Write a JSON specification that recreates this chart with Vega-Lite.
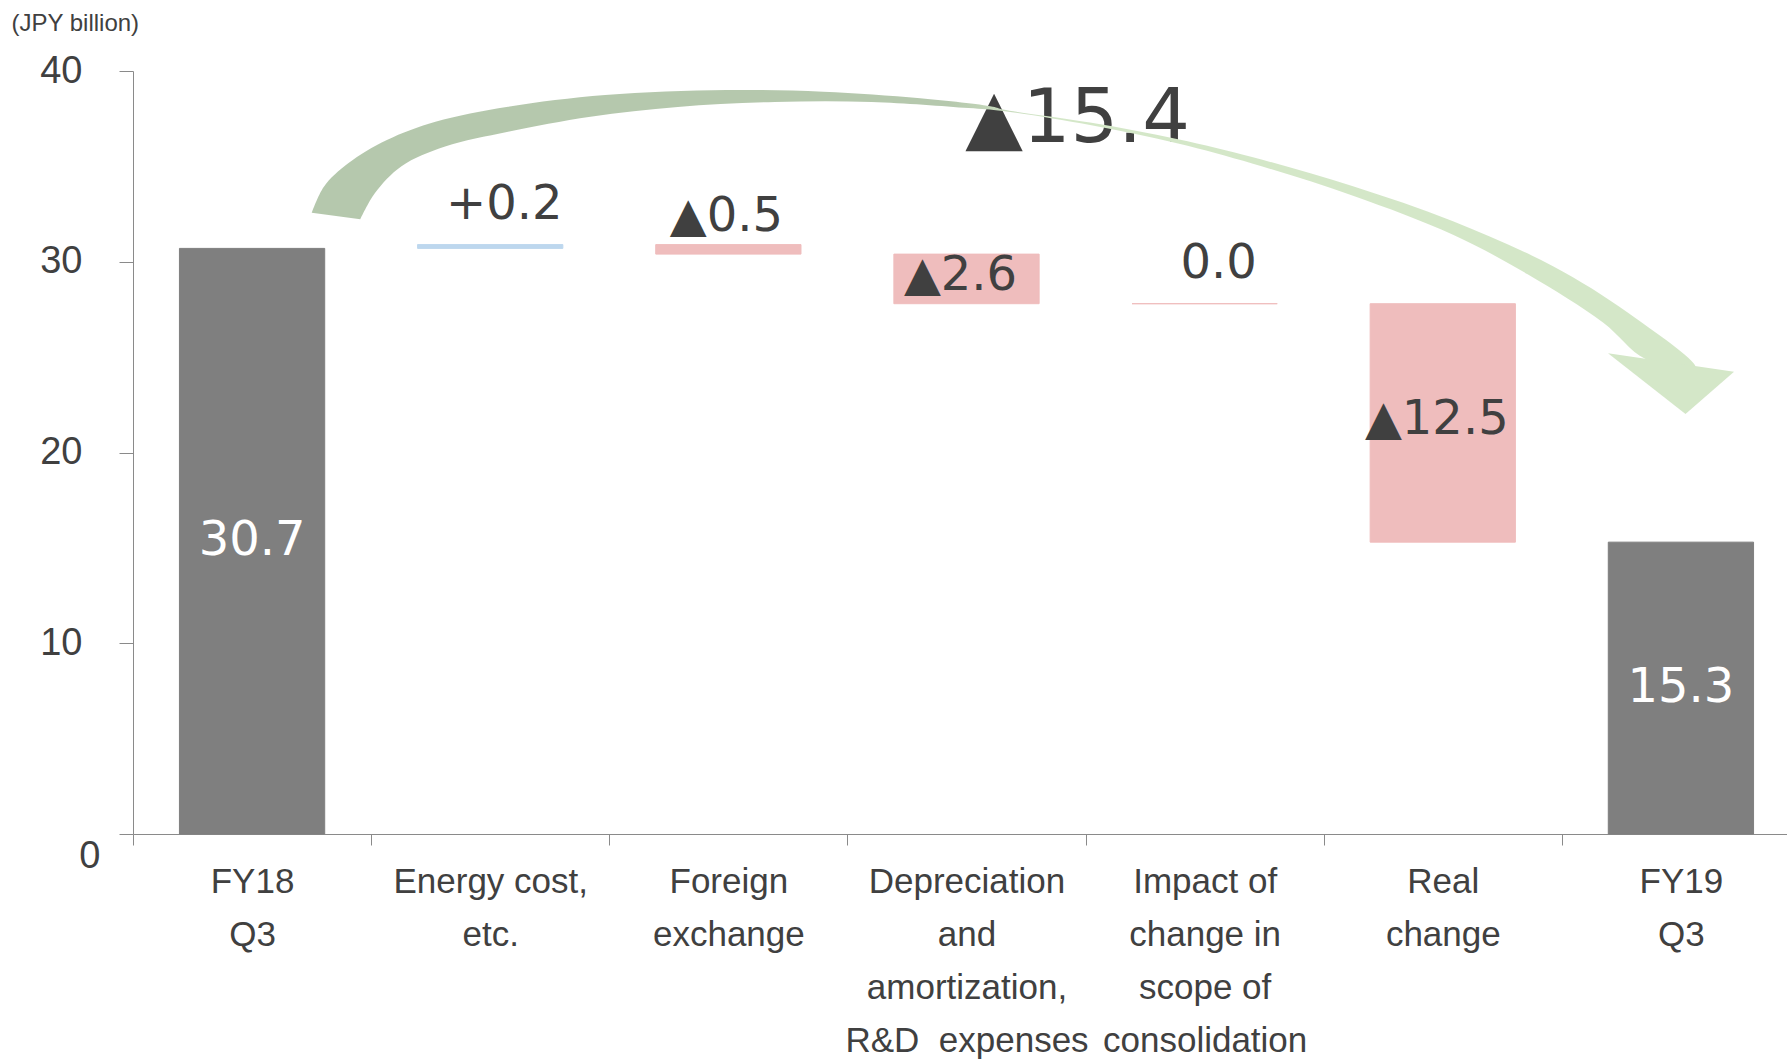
{
  "$schema": "https://vega.github.io/schema/vega-lite/v6.json",
  "width": 1654,
  "height": 763,
  "autosize": {"type": "none"},
  "padding": {"left": 133, "top": 71, "right": 0, "bottom": 225},
  "background": "white",
  "config": {"view": {"stroke": null}},
  "datasets": {
    "steps": [
      {"cat": "FY18|Q3", "lo": 0, "hi": 30.7, "kind": "total", "lab": "30.7"},
      {"cat": "Energy cost,|etc.", "lo": 30.7, "hi": 30.9, "kind": "up", "lab": "+0.2"},
      {"cat": "Foreign|exchange", "lo": 30.4, "hi": 30.9, "kind": "down", "lab": "▲0.5"},
      {"cat": "Depreciation|and|amortization,|R&D\u00a0 expenses", "lo": 27.8, "hi": 30.4, "kind": "down", "lab": "▲2.6"},
      {"cat": "Impact of|change in|scope of|consolidation", "lo": 27.8, "hi": 27.8, "kind": "down", "lab": "0.0"},
      {"cat": "Real|change", "lo": 15.3, "hi": 27.8, "kind": "down", "lab": "▲12.5"},
      {"cat": "FY19|Q3", "lo": 0, "hi": 15.3, "kind": "total", "lab": "15.3"}
    ],
    "total": [
      {"cat": "Depreciation|and|amortization,|R&D\u00a0 expenses", "lab": "▲15.4", "v": 37.57}
    ],
    "arrow": [
      {"i": 1, "u": 0.7508, "v": 32.571},
      {"i": 2, "u": 0.8016, "v": 33.935},
      {"i": 3, "u": 0.9037, "v": 35.161},
      {"i": 4, "u": 1.0662, "v": 36.383},
      {"i": 5, "u": 1.2699, "v": 37.342},
      {"i": 6, "u": 1.5751, "v": 38.129},
      {"i": 7, "u": 1.9825, "v": 38.742},
      {"i": 8, "u": 2.4911, "v": 39.004},
      {"i": 9, "u": 2.8984, "v": 38.915},
      {"i": 10, "u": 3.3056, "v": 38.569},
      {"i": 11, "u": 3.6109, "v": 38.128},
      {"i": 12, "u": 3.6533, "v": 37.982},
      {"i": 13, "u": 4.0187, "v": 37.295},
      {"i": 14, "u": 4.3882, "v": 36.42},
      {"i": 15, "u": 4.7031, "v": 35.476},
      {"i": 16, "u": 5.123, "v": 33.955},
      {"i": 17, "u": 5.543, "v": 32.121},
      {"i": 18, "u": 5.9629, "v": 29.762},
      {"i": 19, "u": 6.2778, "v": 27.324},
      {"i": 20, "u": 6.5613, "v": 24.456},
      {"i": 21, "u": 6.3513, "v": 24.902},
      {"i": 22, "u": 6.1728, "v": 26.815},
      {"i": 23, "u": 5.8579, "v": 29.332},
      {"i": 24, "u": 5.543, "v": 31.416},
      {"i": 25, "u": 5.123, "v": 33.46},
      {"i": 26, "u": 4.7031, "v": 35.138},
      {"i": 27, "u": 4.3882, "v": 36.199},
      {"i": 28, "u": 4.0187, "v": 37.169},
      {"i": 29, "u": 3.6533, "v": 37.903},
      {"i": 30, "u": 3.5088, "v": 38.06},
      {"i": 31, "u": 3.102, "v": 38.381},
      {"i": 32, "u": 2.6946, "v": 38.381},
      {"i": 33, "u": 2.2877, "v": 38.119},
      {"i": 34, "u": 1.9211, "v": 37.605},
      {"i": 35, "u": 1.5751, "v": 36.818},
      {"i": 36, "u": 1.3106, "v": 36.042},
      {"i": 37, "u": 1.1275, "v": 35.007},
      {"i": 38, "u": 1.0154, "v": 33.589},
      {"i": 39, "u": 0.9545, "v": 32.226}
    ],
    "head": [
      {"u": 6.4584, "v": 23.381}
    ]
  },
  "layer": [
    {
      "layer": [
        {
          "data": {"name": "steps"},
          "mark": {"type": "bar", "width": {"band": 0.61}, "strokeWidth": 1},
          "encoding": {
            "x": {
              "field": "cat", "type": "nominal", "sort": null, "title": null,
              "scale": {
                "domain": ["FY18|Q3", "Energy cost,|etc.", "Foreign|exchange", "Depreciation|and|amortization,|R&D\u00a0 expenses", "Impact of|change in|scope of|consolidation", "Real|change", "FY19|Q3"],
                "range": [0, 1667], "paddingInner": 0, "paddingOuter": 0
              },
              "axis": {
                "tickBand": "extent", "tickSize": 11, "tickColor": "#8a8a8a", "domainColor": "#8a8a8a",
                "labelPadding": 19, "labelFont": "Liberation Sans", "labelFontSize": 35, "labelColor": "#404040",
                "labelLineHeight": 53, "labelExpr": "split(datum.label, '|')", "labelAngle": 0,
                "labelBaseline": "top", "labelLimit": 600, "labelOverlap": false, "labelBound": false, "grid": false
              }
            },
            "y": {
              "field": "lo", "type": "quantitative",
              "scale": {"domain": [0, 40], "nice": false},
              "axis": {
                "title": "(JPY billion)", "titleAngle": 0, "titleAlign": "left", "titleBaseline": "middle",
                "titleX": -122, "titleY": -48, "titleFont": "Liberation Sans", "titleFontSize": 24,
                "titleFontWeight": "normal", "titleColor": "#404040",
                "values": [0, 10, 20, 30, 40], "grid": false, "tickSize": 14, "tickColor": "#8a8a8a", "domainColor": "#8a8a8a",
                "labelFont": "Liberation Sans", "labelFontSize": 38, "labelColor": "#404040",
                "labelPadding": {"condition": {"test": "datum.value === 0", "value": 19}, "value": 37},
                "labelOffset": {"condition": {"test": "datum.value === 0", "value": 22}, "value": 0}
              }
            },
            "y2": {"field": "hi"},
            "color": {"field": "kind", "type": "nominal", "scale": {"domain": ["total", "up", "down"], "range": ["#7f7f7f", "#bdd7ee", "#efbdbd"]}, "legend": null},
            "stroke": {"field": "kind", "type": "nominal", "scale": {"domain": ["total", "up", "down"], "range": ["#7f7f7f", "#bdd7ee", "#efbdbd"]}, "legend": null}
          }
        },
        {
          "data": {"name": "steps"},
          "transform": [{"filter": "datum.kind == 'total'"}, {"fold": ["lo", "hi"], "as": ["k", "v"]}],
          "mark": {"type": "text", "font": "DejaVu Sans", "fontSize": 48, "color": "white", "align": "center", "baseline": "middle"},
          "encoding": {
            "x": {"field": "cat", "type": "nominal", "sort": null},
            "y": {"aggregate": "mean", "field": "v", "type": "quantitative"},
            "text": {"field": "lab", "type": "nominal"}
          }
        },
        {
          "data": {"name": "steps"},
          "transform": [{"filter": "datum.lab == '▲2.6' || datum.lab == '▲12.5'"}, {"fold": ["lo", "hi"], "as": ["k", "v"]}],
          "mark": {"type": "text", "font": "DejaVu Sans", "fontSize": 48, "color": "#404040", "align": "center", "baseline": "middle", "dx": -6, "dy": -3},
          "encoding": {
            "x": {"field": "cat", "type": "nominal", "sort": null},
            "y": {"aggregate": "mean", "field": "v", "type": "quantitative"},
            "text": {"field": "lab", "type": "nominal"}
          }
        },
        {
          "data": {"name": "steps"},
          "transform": [{"filter": "datum.lab == '+0.2' || datum.lab == '0.0'"}],
          "mark": {"type": "text", "font": "DejaVu Sans", "fontSize": 48, "color": "#404040", "align": "center", "baseline": "middle", "dx": 14, "dy": -40},
          "encoding": {
            "x": {"field": "cat", "type": "nominal", "sort": null},
            "y": {"field": "hi", "type": "quantitative"},
            "text": {"field": "lab", "type": "nominal"}
          }
        },
        {
          "data": {"name": "steps"},
          "transform": [{"filter": "datum.lab == '▲0.5'"}],
          "mark": {"type": "text", "font": "DejaVu Sans", "fontSize": 48, "color": "#404040", "align": "center", "baseline": "middle", "dx": -2, "dy": -28},
          "encoding": {
            "x": {"field": "cat", "type": "nominal", "sort": null},
            "y": {"field": "hi", "type": "quantitative"},
            "text": {"field": "lab", "type": "nominal"}
          }
        },
        {
          "data": {"name": "total"},
          "mark": {"type": "text", "font": "DejaVu Sans", "fontSize": 75, "color": "#404040", "align": "center", "baseline": "middle", "dx": 111, "dy": 2},
          "encoding": {
            "x": {"field": "cat", "type": "nominal", "sort": null},
            "y": {"field": "v", "type": "quantitative"},
            "text": {"field": "lab", "type": "nominal"}
          }
        }
      ]
    },
    {
      "layer": [
        {
          "data": {"name": "arrow"},
          "mark": {
            "type": "line",
            "filled": true,
            "interpolate": "catmull-rom",
            "color": {
              "gradient": "linear", "x1": 0, "y1": 0, "x2": 1, "y2": 0,
              "stops": [
                {"offset": 0, "color": "#b5c8ad"},
                {"offset": 0.46, "color": "#b5c8ad"},
                {"offset": 0.53, "color": "#d4e7c8"},
                {"offset": 1, "color": "#d4e7c8"}
              ]
            },
            "strokeWidth": 0,
            "opacity": 1
          },
          "encoding": {
            "x": {"field": "u", "type": "quantitative", "scale": {"domain": [0, 7], "range": [0, 1667], "nice": false, "zero": false}, "axis": null},
            "y": {"field": "v", "type": "quantitative"},
            "order": {"field": "i", "type": "quantitative"}
          }
        },
        {
          "data": {"name": "head"},
          "mark": {"type": "point", "shape": "M-1,-0.551L1,-0.259L0.23,0.413Z", "size": 15876, "filled": true, "color": "#d4e7c8", "opacity": 1, "strokeWidth": 0},
          "encoding": {
            "x": {"field": "u", "type": "quantitative", "scale": {"domain": [0, 7], "range": [0, 1667], "nice": false, "zero": false}, "axis": null},
            "y": {"field": "v", "type": "quantitative"}
          }
        }
      ]
    }
  ],
  "resolve": {"scale": {"x": "independent"}}
}
